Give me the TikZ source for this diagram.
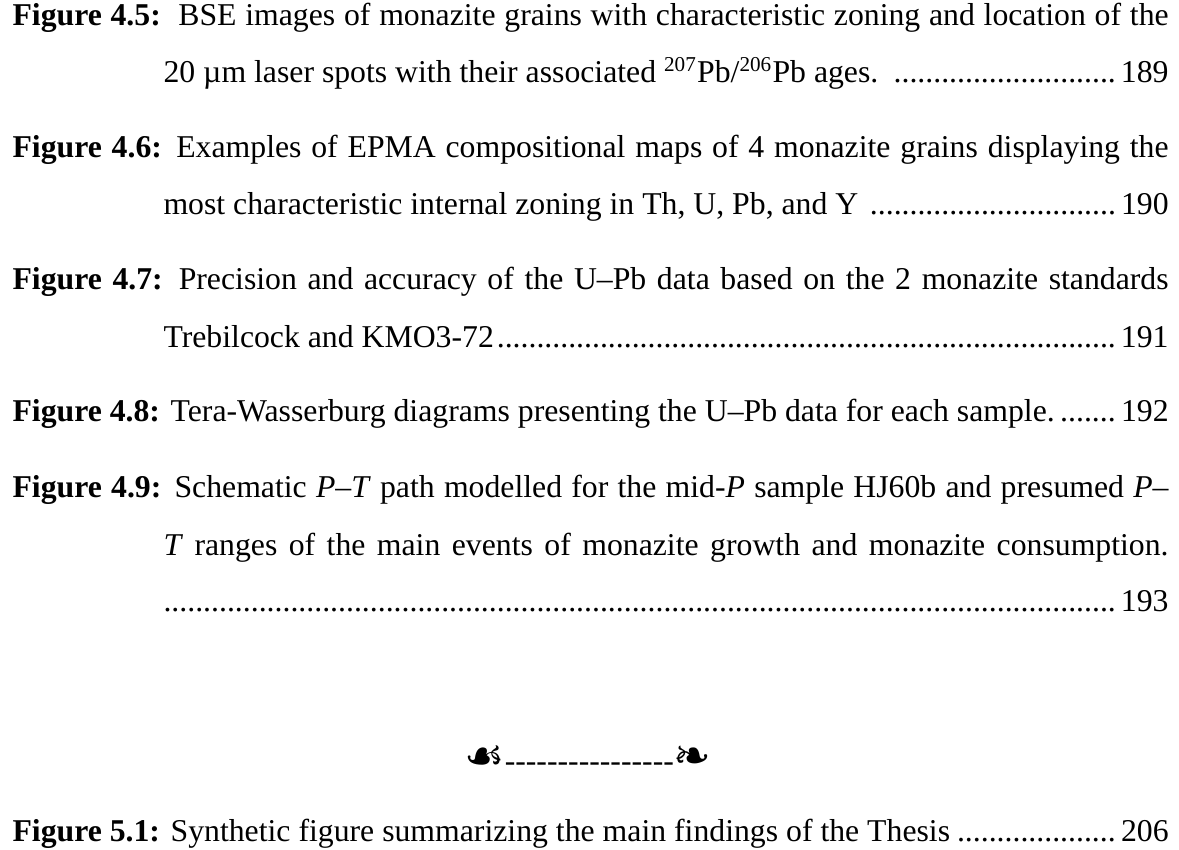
\documentclass[tikz,border=0pt]{standalone}
\usepackage{fontspec}
\setmainfont{Liberation Serif}
\newfontfamily\ornfont{DejaVu Sans}
\usetikzlibrary{positioning}

\newlength{\fullwd}
\setlength{\fullwd}{437.0pt}
\newlength{\hangwd}
\setlength{\hangwd}{379.9pt}
\newcommand{\dotlead}{\leaders\hbox to 3pt{\hss.\hss}\hfill}
\newcommand{\fullline}[1]{\makebox[\fullwd][s]{#1}}
\newcommand{\fullpage}[2]{\makebox[\fullwd][l]{#1\dotlead #2}}
\newcommand{\hangpage}[2]{\makebox[\hangwd][l]{#1\dotlead #2}}
\newcommand{\hangline}[1]{\makebox[\hangwd][s]{#1}}

\begin{document}
\begin{tikzpicture}[x = 0.378pt, y = -0.378pt,
  entry/.style = {anchor = base west, inner sep = 0pt, font = \fontsize{12}{14}\selectfont},
  orn/.style = {anchor = base, inner sep = 0pt, font = \fontsize{12}{14}\selectfont}]
\useasboundingbox (0, 0) rectangle (1179, 850);
% Figure 4.5
\node[entry] (f45a) at (12, 26) {\fullline{\textbf{Figure 4.5:}\ \ BSE images of monazite grains with characteristic zoning and location of the}};
\node[entry] (f45b) at (163, 83) {\hangpage{20 µm laser spots with their associated \textsuperscript{207}Pb/\textsuperscript{206}Pb ages. }{189}};
% Figure 4.6
\node[entry] (f46a) at (12, 158) {\fullline{\textbf{Figure 4.6:} Examples of EPMA compositional maps of 4 monazite grains displaying the}};
\node[entry] (f46b) at (163, 215) {\hangpage{most characteristic internal zoning in Th, U, Pb, and Y }{190}};
% Figure 4.7
\node[entry] (f47a) at (12, 290) {\fullline{\textbf{Figure 4.7:} Precision and accuracy of the U--Pb data based on the 2 monazite standards}};
\node[entry] (f47b) at (163, 348) {\hangpage{Trebilcock and KMO3-72}{191}};
% Figure 4.8
\node[entry] (f48a) at (12, 422) {\fullpage{\textbf{Figure 4.8:} Tera-Wasserburg diagrams presenting the U--Pb data for each sample.}{192}};
% Figure 4.9
\node[entry] (f49a) at (12, 498) {\fullline{\textbf{Figure 4.9:} Schematic \textit{P}--\textit{T} path modelled for the mid-\textit{P} sample HJ60b and presumed \textit{P}--}};
\node[entry] (f49b) at (163, 556) {\hangline{\textit{T} ranges of the main events of monazite growth and monazite consumption.}};
\node[entry] (f49c) at (163, 612) {\hangpage{}{193}};
% chapter break
\node[orn] (sep) at (588, 771) {{\ornfont\fontsize{17}{17}\selectfont ☙}\foreach \d in {1,...,16}{-\kern0pt}{\ornfont\fontsize{17}{17}\selectfont ❧}};
% Figure 5.1
\node[entry] (f51a) at (12, 841) {\fullpage{\textbf{Figure 5.1:} Synthetic figure summarizing the main findings of the Thesis}{206}};
\end{tikzpicture}
\end{document}
